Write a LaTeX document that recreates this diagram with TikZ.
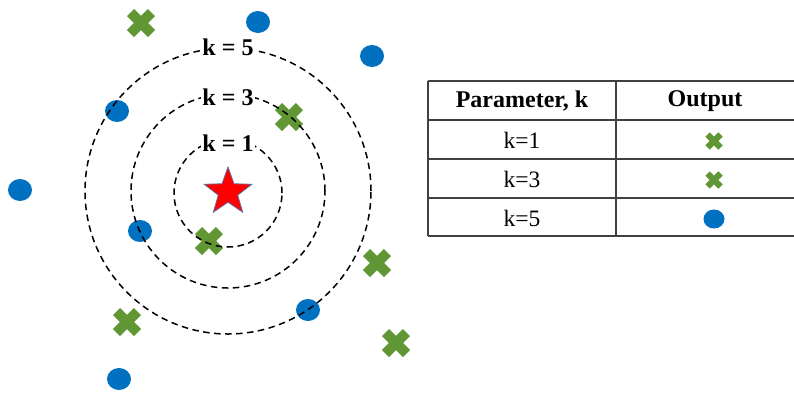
\documentclass[tikz,border=0pt]{standalone}
\usepackage{fontspec}
\setmainfont{Liberation Serif}
\usetikzlibrary{shapes.geometric}
\definecolor{xgreen}{RGB}{96,151,52}
\definecolor{dblue}{RGB}{0,112,192}
\definecolor{starred}{RGB}{255,0,0}
\definecolor{starline}{RGB}{100,110,160}
\tikzset{
  ring/.style={draw=black, line width=1.5pt, dash pattern=on 6.5pt off 4.5pt},
  klabel/.style={fill=white, inner sep=1.5pt, font=\fontsize{24}{28}\selectfont\bfseries},
  tabline/.style={draw=black!75, line width=1.3pt},
  headtxt/.style={font=\fontsize{24}{28}\selectfont\bfseries, inner sep=0pt},
  celltxt/.style={font=\fontsize{23.5}{28}\selectfont, inner sep=0pt},
  pics/xmark/.style={code={
    \draw[xgreen, line width=#1*0.48pt, line cap=butt] (-#1*0.5,-#1*0.5) -- (#1*0.5,#1*0.5);
    \draw[xgreen, line width=#1*0.48pt, line cap=butt] (-#1*0.5,#1*0.5) -- (#1*0.5,-#1*0.5);
  }},
  dotmark/.style={fill=dblue, draw=none, ellipse, inner sep=0pt, minimum width=24pt, minimum height=22pt},
  smalldot/.style={fill=dblue, draw=none, ellipse, inner sep=0pt, minimum width=21pt, minimum height=19pt},
}
\begin{document}
\begin{tikzpicture}[x=1pt, y=-1pt]
\useasboundingbox (0,0) rectangle (794,392);
% green crosses
\pic at (141,23) {xmark=21};
\pic at (289,117) {xmark=21};
\pic at (209,241) {xmark=21};
\pic at (377,263) {xmark=21};
\pic at (127,322) {xmark=21};
\pic at (396,343) {xmark=21};
% blue dots
\node[dotmark] (b1) at (258,22) {};
\node[dotmark] (b2) at (372,56) {};
\node[dotmark] (b3) at (117,111) {};
\node[dotmark] (b4) at (20,190) {};
\node[dotmark] (b5) at (140,231) {};
\node[dotmark] (b6) at (308,310) {};
\node[dotmark] (b7) at (119,379) {};
% star
\node[star, star points=5, star point ratio=2.45, minimum size=50pt, inner sep=0pt,
      fill=starred, draw=starline, line width=0.8pt] (st) at (228,192) {};
% rings
\draw[ring] (228,193) circle[radius=54pt];
\draw[ring] (228,191) circle[radius=97pt];
\draw[ring] (228,191) circle[radius=143pt];
% labels
\node[klabel] (l5) at (228,47) {k = 5};
\node[klabel] (l3) at (228,97) {k = 3};
\node[klabel] (l1) at (228,143) {k = 1};
% table
\draw[tabline] (428,81) -- (794,81);
\draw[tabline] (428,120) -- (794,120);
\draw[tabline] (428,159) -- (794,159);
\draw[tabline] (428,198) -- (794,198);
\draw[tabline] (428,236) -- (794,236);
\draw[tabline] (428,81) -- (428,236);
\draw[tabline] (616,81) -- (616,236);
\node[headtxt] (h1) at (522,101) {Parameter, k};
\node[headtxt] (h2) at (705,101) {Output};
\node[celltxt] (r1) at (522,140) {k=1};
\node[celltxt] (r2) at (522,179) {k=3};
\node[celltxt] (r3) at (522,218) {k=5};
\pic at (714,141) {xmark=13};
\pic at (714,180) {xmark=13};
\node[smalldot] (o3) at (714,219) {};
\end{tikzpicture}
\end{document}
